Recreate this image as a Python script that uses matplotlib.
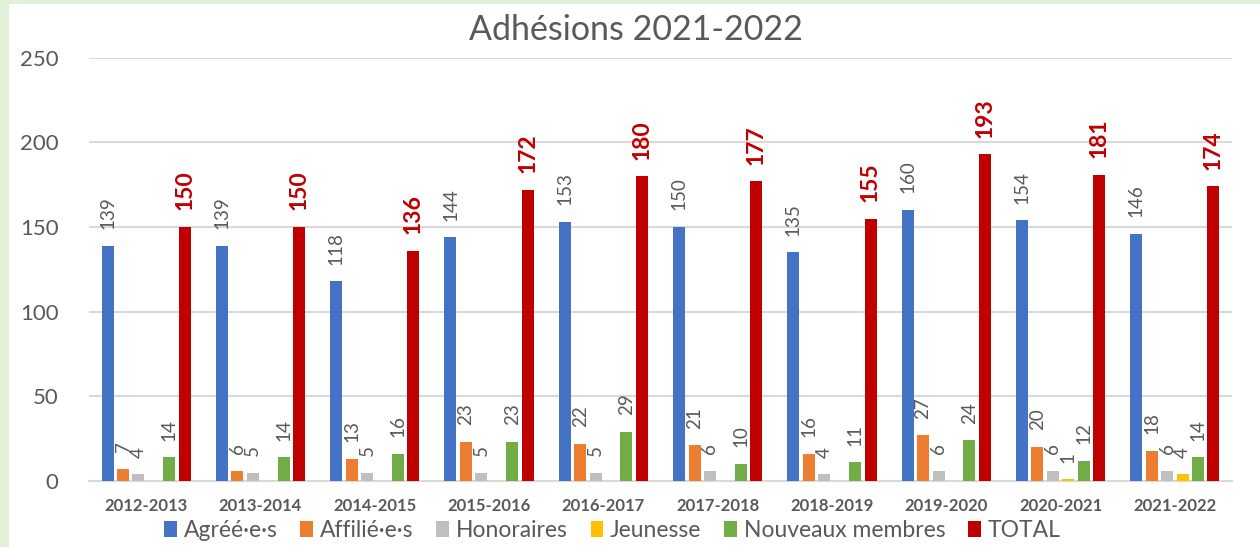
import numpy as np
import matplotlib
matplotlib.use("Agg")
import matplotlib.pyplot as plt
from matplotlib.patches import Rectangle, Patch

plt.rcParams['font.family'] = ['Lato', 'DejaVu Sans']

# données
saisons = ['2012-2013', '2013-2014', '2014-2015', '2015-2016', '2016-2017',
           '2017-2018', '2018-2019', '2019-2020', '2020-2021', '2021-2022']
agrees = [139, 139, 118, 144, 153, 150, 135, 160, 154, 146]
affilies = [7, 6, 13, 23, 22, 21, 16, 27, 20, 18]
honoraires = [4, 5, 5, 5, 5, 6, 4, 6, 6, 6]
jeunesse = [np.nan] * 8 + [1, 4]
nouveaux = [14, 14, 16, 23, 29, 10, 11, 24, 12, 14]
total = [150, 150, 136, 172, 180, 177, 155, 193, 181, 174]

series = [
    ('Agréé·e·s', agrees, '#4472C4'),
    ('Affilié·e·s', affilies, '#ED7D31'),
    ('Honoraires', honoraires, '#BFBFBF'),
    ('Jeunesse', jeunesse, '#FFC000'),
    ('Nouveaux membres', nouveaux, '#70AD47'),
    ('TOTAL', total, '#C00000'),
]

gris = '#595959'

fig = plt.figure(figsize=(12.6, 5.47), dpi=100)
fig.patch.set_facecolor('#E2F0D9')
# fond blanc (bordure verte seulement à gauche et en haut)
fond = Rectangle((9 / 1260, 0), 1, 543 / 547, transform=fig.transFigure,
                 facecolor='white', edgecolor='none', zorder=-10)
fig.add_artist(fond)

ax = fig.add_axes([89 / 1260, 66 / 547, (1232 - 89) / 1260, (489.3 - 66) / 547])
ax.set_facecolor('none')

x = np.arange(len(saisons))
slot = 0.135
width = 0.105

handles = []
for i, (nom, vals, col) in enumerate(series):
    pos = x + (i - 2.5) * slot
    vals = np.array(vals, dtype=float)
    ax.bar(pos, vals, width=width, color=col, zorder=3)
    handles.append(Patch(facecolor=col, label=nom))
    for p, v in zip(pos, vals):
        if np.isnan(v):
            continue
        if nom == 'TOTAL':
            ax.annotate(f'{int(v)}', (p, v), xytext=(0, 12), textcoords='offset points',
                        rotation=90, ha='center', va='bottom', fontsize=16.5,
                        fontweight='bold', color='#C00000')
        else:
            ax.annotate(f'{int(v)}', (p, v), xytext=(0, 12), textcoords='offset points',
                        rotation=90, ha='center', va='bottom', fontsize=13.5, color=gris)

ax.set_ylim(0, 250)
ax.set_xlim(-0.5, len(saisons) - 0.5)
ax.set_yticks(range(0, 251, 50))
ax.yaxis.grid(True, color='#D9D9D9', linewidth=1.5, zorder=0)
ax.set_axisbelow(True)
for s in ['top', 'right', 'left']:
    ax.spines[s].set_visible(False)
ax.spines['bottom'].set_color('#D9D9D9')
ax.spines['bottom'].set_linewidth(1.5)
ax.tick_params(axis='both', length=0)
ax.tick_params(axis='y', labelsize=16, labelcolor=gris, pad=22)
ax.set_xticks(x)
ax.set_xticklabels(saisons, fontsize=12, fontweight='bold', color=gris)
ax.tick_params(axis='x', pad=12)

fig.text(0.505, 0.945, 'Adhésions 2021-2022', ha='center', va='center',
         fontsize=24.5, color=gris)

fig.legend(handles=handles, loc='center', bbox_to_anchor=(0.486, 0.03), ncol=6,
           frameon=False, fontsize=16.5, labelcolor=gris, handlelength=0.55,
           handleheight=0.75, handletextpad=0.3, columnspacing=1.0)

fig.savefig('out.png', dpi=100, facecolor=fig.get_facecolor())
